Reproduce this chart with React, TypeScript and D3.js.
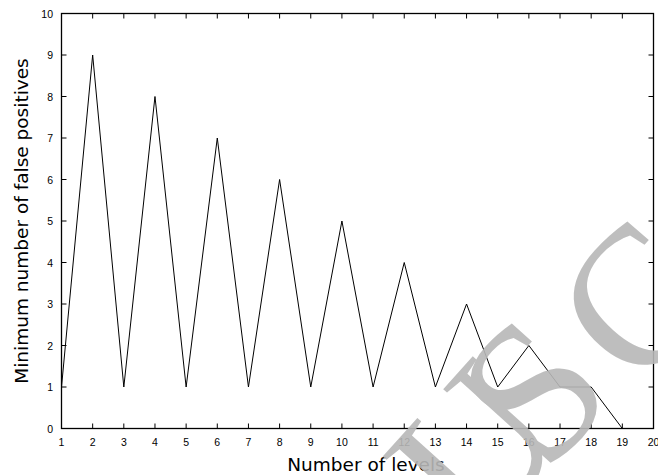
import { useRef, useEffect } from 'react';
import * as d3 from 'd3';

const levels = [1, 2, 3, 4, 5, 6, 7, 8, 9, 10, 11, 12, 13, 14, 15, 16, 17, 18, 19];
const falsePositives = [1, 9, 1, 8, 1, 7, 1, 6, 1, 5, 1, 4, 1, 3, 1, 2, 1, 1, 0];
const xTicks = d3.range(1, 21);
const yTicks = d3.range(0, 11);
const watermark = ['U', 'S', 'C'];

const W = 658;
const H = 475;
const M = { left: 61.5, right: 4.5, top: 13.5, bottom: 46.5 };
const TICK = 5;

export default function App() {
  const svgRef = useRef<SVGSVGElement>(null);

  useEffect(() => {
    const svg = d3.select(svgRef.current);
    svg.selectAll('*').remove();

    const x = d3.scaleLinear().domain([1, 20]).range([M.left, W - M.right]);
    const y = d3.scaleLinear().domain([0, 10]).range([H - M.bottom, M.top]);

    svg.append('rect').attr('width', W).attr('height', H).attr('fill', '#fff');

    // ticks on all four sides, pointing inward
    const ticks = svg.append('g').attr('stroke', '#000').attr('stroke-width', 1);
    xTicks.forEach((t) => {
      ticks.append('line').attr('x1', x(t)).attr('x2', x(t)).attr('y1', y(0)).attr('y2', y(0) - TICK);
      ticks.append('line').attr('x1', x(t)).attr('x2', x(t)).attr('y1', y(10)).attr('y2', y(10) + TICK);
    });
    yTicks.forEach((t) => {
      ticks.append('line').attr('x1', x(1)).attr('x2', x(1) + TICK).attr('y1', y(t)).attr('y2', y(t));
      ticks.append('line').attr('x1', x(20)).attr('x2', x(20) - TICK).attr('y1', y(t)).attr('y2', y(t));
    });

    // tick labels
    svg
      .append('g')
      .selectAll('text')
      .data(xTicks)
      .join('text')
      .attr('x', (d) => x(d))
      .attr('y', 446)
      .attr('text-anchor', 'middle')
      .attr('font-family', 'Liberation Sans, Arial, sans-serif')
      .attr('font-size', 10.5)
      .attr('fill', '#000')
      .text((d) => d);
    svg
      .append('g')
      .selectAll('text')
      .data(yTicks)
      .join('text')
      .attr('x', 53)
      .attr('y', (d) => y(d) + 4)
      .attr('text-anchor', 'end')
      .attr('font-family', 'Liberation Sans, Arial, sans-serif')
      .attr('font-size', 10.5)
      .attr('fill', '#000')
      .text((d) => d);

    // data line
    const line = d3
      .line<number>()
      .x((_, i) => x(levels[i]))
      .y((d) => y(d));
    svg
      .append('path')
      .datum(falsePositives)
      .attr('d', line)
      .attr('fill', 'none')
      .attr('stroke', '#000')
      .attr('stroke-width', 1);

    // frame
    svg
      .append('rect')
      .attr('x', x(1))
      .attr('y', y(10))
      .attr('width', x(20) - x(1))
      .attr('height', y(0) - y(10))
      .attr('fill', 'none')
      .attr('stroke', '#000')
      .attr('stroke-width', 1.3);

    // axis titles
    svg
      .append('text')
      .attr('x', 366)
      .attr('y', 471)
      .attr('text-anchor', 'middle')
      .attr('font-family', 'DejaVu Sans, sans-serif')
      .attr('font-size', 18.5)
      .attr('fill', '#000')
      .text('Number of levels');
    svg
      .append('text')
      .attr('transform', 'translate(28,221) rotate(-90)')
      .attr('text-anchor', 'middle')
      .attr('font-family', 'DejaVu Sans, sans-serif')
      .attr('font-size', 18.5)
      .attr('fill', '#000')
      .text('Minimum number of false positives');

    // watermark letters, placed one by one along a slanted line
    const centers: [number, number][] = [
      [474, 448],
      [532, 390],
      [636, 300],
    ];
    const wm = svg.append('g').attr('fill', '#b8b8b8').attr('opacity', 0.9);
    watermark.forEach((ch, i) => {
      wm.append('text')
        .attr('transform', `translate(${centers[i][0]},${centers[i][1]}) rotate(-48)`)
        .attr('text-anchor', 'middle')
        .attr('dy', '0.34em')
        .attr('font-family', 'Liberation Serif, Times New Roman, serif')
        .attr('font-size', 198)
        .text(ch);
    });
  }, []);

  return <svg ref={svgRef} width={W} height={H} style={{ display: 'block', position: 'absolute', left: 0, top: 0 }} />;
}
